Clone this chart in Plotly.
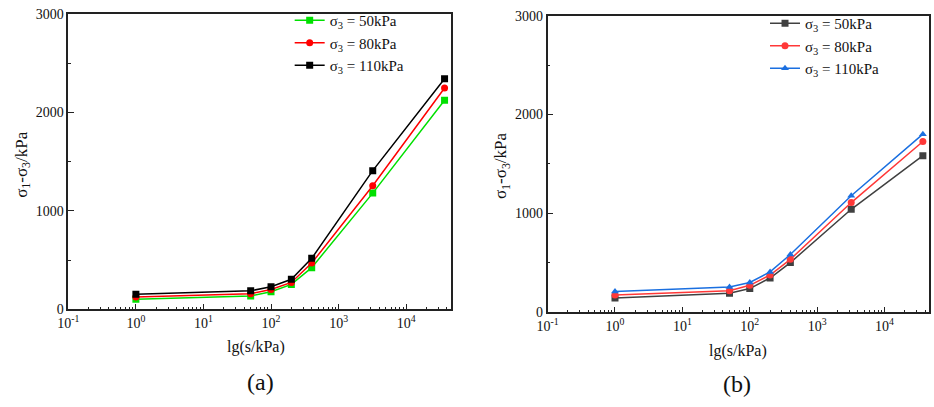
import plotly.graph_objects as go

# suction values (kPa)
suction = [1, 50, 100, 200, 400, 3200, 37000]

# panel (a)
a_50 = [104, 137, 179, 254, 424, 1180, 2122]
a_80 = [127, 160, 202, 274, 470, 1255, 2246]
a_110 = [153, 189, 231, 306, 518, 1408, 2341]

# panel (b)
b_50 = [146, 192, 240, 347, 503, 1042, 1584]
b_80 = [175, 218, 273, 377, 536, 1110, 1727]
b_110 = [211, 256, 302, 409, 584, 1179, 1802]

labels = ['σ<sub>3</sub> = 50kPa', 'σ<sub>3</sub> = 80kPa', 'σ<sub>3</sub> = 110kPa']

major_x = [0.1, 1, 10, 100, 1000, 10000]
major_x_text = ['10<sup>-1</sup>', '10<sup>0</sup>', '10<sup>1</sup>', '10<sup>2</sup>',
                '10<sup>3</sup>', '10<sup>4</sup>']
minor_x = [m * 10 ** e for e in range(-1, 5) for m in range(2, 10)]

font_family = 'Liberation Serif, Times New Roman, serif'


def line(x, y, name, color, symbol, xa, ya, legend):
    return go.Scatter(x=x, y=y, name=name, mode='lines+markers',
                      line=dict(color=color, width=1.5),
                      marker=dict(symbol=symbol, size=7, color=color),
                      xaxis=xa, yaxis=ya, legend=legend)


data = [
    line(suction, a_50, labels[0], '#00e000', 'square', 'x', 'y', 'legend'),
    line(suction, a_80, labels[1], '#ff0000', 'circle', 'x', 'y', 'legend'),
    line(suction, a_110, labels[2], '#000000', 'square', 'x', 'y', 'legend'),
    line(suction, b_50, labels[0], '#404040', 'square', 'x2', 'y2', 'legend2'),
    line(suction, b_80, labels[1], '#ff3838', 'circle', 'x2', 'y2', 'legend2'),
    line(suction, b_110, labels[2], '#1a6fe0', 'triangle-up', 'x2', 'y2', 'legend2'),
]

xaxis_style = dict(type='log', range=[-1, 4.66], tickmode='array', tickvals=major_x,
                   ticktext=major_x_text, ticks='inside', ticklen=6, tickcolor='#222',
                   showline=True, linecolor='#222', linewidth=1.5, mirror=True,
                   showgrid=False, zeroline=False, tickfont=dict(size=14),
                   minor=dict(tickmode='array', tickvals=minor_x, ticks='inside',
                              ticklen=3, tickcolor='#222', showgrid=False))
yaxis_style = dict(range=[0, 3000], tickvals=[0, 1000, 2000, 3000], ticks='inside',
                   ticklen=6, tickcolor='#222', showline=True, linecolor='#222',
                   linewidth=1.5, mirror=True, showgrid=False, zeroline=False,
                   tickfont=dict(size=14),
                   minor=dict(tickvals=[500, 1500, 2500], ticks='inside', ticklen=3,
                              tickcolor='#222', showgrid=False))

W, H = 934, 407

annotations = [
    dict(text='σ<sub>1</sub>-σ<sub>3</sub>/kPa', x=12 / W, y=1 - 163 / H, textangle=-90,
         font=dict(size=17)),
    dict(text='σ<sub>1</sub>-σ<sub>3</sub>/kPa', x=497 / W, y=1 - 165 / H, textangle=-90,
         font=dict(size=17)),
    dict(text='lg(s/kPa)', x=248 / W, y=1 - 353 / H),
    dict(text='lg(s/kPa)', x=736 / W, y=1 - 357 / H),
    dict(text='(a)', x=252 / W, y=1 - 389 / H, font=dict(size=24)),
    dict(text='(b)', x=735 / W, y=1 - 391 / H, font=dict(size=24)),
]
for a in annotations:
    a.update(xref='paper', yref='paper', showarrow=False, xanchor='center', yanchor='middle')
    a.setdefault('font', dict(size=16))

layout = dict(
    width=W, height=H,
    margin=dict(l=0, r=0, t=0, b=0),
    paper_bgcolor='white', plot_bgcolor='white',
    font=dict(family=font_family, color='#111', size=14),
    xaxis=dict(domain=[58 / W, 445 / W], anchor='y', **xaxis_style),
    yaxis=dict(domain=[1 - 314 / H, 1 - 7 / H], anchor='x', **yaxis_style),
    xaxis2=dict(domain=[543 / W, 929 / W], anchor='y2', **xaxis_style),
    yaxis2=dict(domain=[1 - 317 / H, 1 - 9 / H], anchor='x2', **yaxis_style),
    legend=dict(x=282 / W, y=1 + 3 / H, xanchor='left', yanchor='top',
                font=dict(size=15), bgcolor='rgba(0,0,0,0)', tracegroupgap=0,
                itemwidth=30),
    legend2=dict(x=763 / W, y=1 + 0 / H, xanchor='left', yanchor='top',
                 font=dict(size=15), bgcolor='rgba(0,0,0,0)', tracegroupgap=0,
                 itemwidth=30),
    annotations=annotations,
)

fig = go.Figure(data=data, layout=layout)
# drop the default 8px page margin so the figure fills the window exactly
fig.write_html("out.html", config={'displayModeBar': False},
               post_script="document.body.style.margin = '0';")
